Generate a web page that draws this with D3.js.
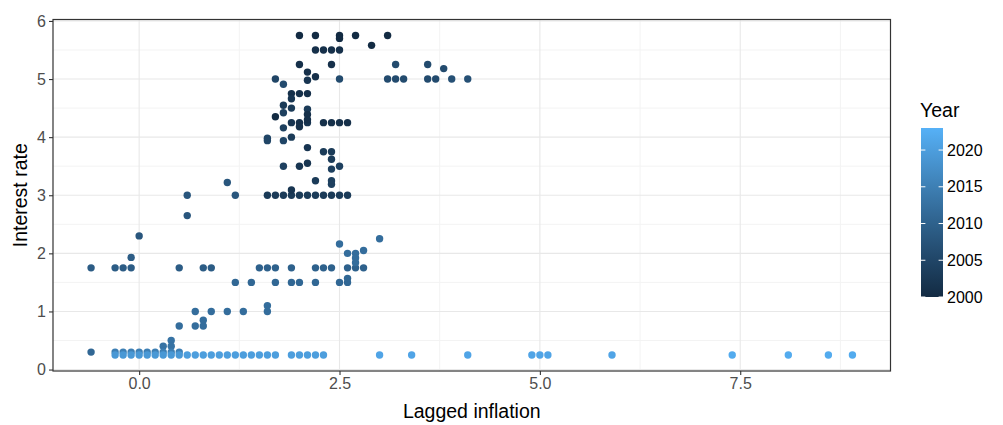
<!DOCTYPE html>
<html>
<head>
<meta charset="utf-8">
<script src="https://cdn.jsdelivr.net/npm/d3@7"></script>
<style>
  body { margin: 0; background: #fff; }
  svg text { font-family: "Liberation Sans", Arial, sans-serif; }
</style>
</head>
<body>
<div id="chart"></div>
<script>
// values
var laggedInflation = [
    // dark years, top of the cloud
    2.0, 2.2, 2.5, 2.5, 2.7, 3.1, 2.9,
    2.2, 2.3, 2.4, 2.5, 2.0, 2.4, 2.1, 2.2, 2.1,
    1.9, 2.0, 2.1, 1.9, 1.8, 1.9, 1.8, 2.1, 2.1, 1.7,
    1.9, 2.0, 2.0, 2.1, 2.1, 2.3, 2.4, 2.5, 2.6, 1.8,
    1.6, 1.6, 1.8, 1.9, 2.1, 2.3, 2.4, 2.4,
    1.8, 2.0, 2.1, 2.5, 2.4, 2.2, 2.4, 2.4,
    1.6, 1.7, 1.8, 1.9, 2.0, 2.1, 2.2, 2.3, 2.4, 2.5, 2.6, 1.9,
    1.2, 1.1, 0.6, 0.6,
    // 2006-2007 block
    3.2, 3.6, 3.8, 1.7, 2.5, 3.1, 3.2, 3.3, 3.6, 3.7, 3.9, 4.1, 1.8,
    // middle years
    0.0, -0.1, -0.6, -0.3, -0.2, -0.1, 0.5, 0.8, 0.9,
    1.5, 1.6, 1.7, 1.9, 2.2, 2.3, 2.4, 2.6, 2.7, 2.8,
    1.2, 1.4, 1.7, 1.9, 2.0, 2.2, 2.5, 2.6, 2.6,
    2.5, 2.6, 2.7, 2.7, 2.7, 2.8, 3.0,
    0.7, 0.9, 1.1, 1.3, 1.6, 1.6,
    0.5, 0.7, 0.8, 0.8,
    0.4, 0.3, 0.4, -0.6,
    // low rate row
    -0.3, -0.2, -0.1, 0.0, 0.1, 0.2, 0.3, 0.4, 0.5,
    -0.3, -0.2, -0.1, 0.0, 0.1, 0.2, 0.3, 0.4, 0.5, 0.6, 0.7, 0.8, 0.9, 1.0,
    1.1, 1.2, 1.3, 1.4, 1.5, 1.6, 1.7, 1.9, 2.0, 2.1, 2.2, 2.3,
    3.0, 3.4, 4.1, 4.9, 5.0, 5.1, 5.9, 7.4, 8.1, 8.6, 8.9
];
var interestRate = [
    5.75, 5.75, 5.75, 5.70, 5.75, 5.75, 5.58,
    5.5, 5.5, 5.5, 5.5, 5.25, 5.25, 5.12, 5.04, 4.98,
    4.75, 4.75, 4.75, 4.66, 4.55, 4.5, 4.42, 4.48, 4.39, 4.35,
    4.25, 4.25, 4.18, 4.25, 4.3, 4.25, 4.25, 4.25, 4.25, 4.16,
    3.98, 3.94, 3.94, 4.0, 3.82, 3.75, 3.75, 3.62,
    3.5, 3.5, 3.55, 3.5, 3.45, 3.25, 3.25, 3.19,
    3.0, 3.0, 3.0, 3.0, 3.0, 3.0, 3.0, 3.0, 3.0, 3.0, 3.0, 3.09,
    3.0, 3.22, 3.0, 2.65,
    5.25, 5.25, 5.18, 5.0, 5.0, 5.0, 5.0, 5.0, 5.0, 5.0, 5.0, 5.0, 4.91,
    2.3, 1.93, 1.75, 1.75, 1.75, 1.75, 1.75, 1.75, 1.75,
    1.75, 1.75, 1.75, 1.75, 1.75, 1.75, 1.75, 1.75, 1.75, 1.75,
    1.5, 1.5, 1.5, 1.5, 1.5, 1.5, 1.5, 1.5, 1.57,
    2.16, 2.0, 2.0, 1.92, 1.84, 2.05, 2.25,
    1.0, 1.0, 1.0, 1.0, 1.0, 1.1,
    0.75, 0.75, 0.75, 0.85,
    0.5, 0.4, 0.4, 0.3,
    0.3, 0.3, 0.3, 0.3, 0.3, 0.3, 0.3, 0.3, 0.3,
    0.25, 0.25, 0.25, 0.25, 0.25, 0.25, 0.25, 0.25, 0.25, 0.25, 0.25, 0.25, 0.25, 0.25,
    0.25, 0.25, 0.25, 0.25, 0.25, 0.25, 0.25, 0.25, 0.25, 0.25, 0.25, 0.25,
    0.25, 0.25, 0.25, 0.25, 0.25, 0.25, 0.25, 0.25, 0.25, 0.25, 0.25
];
var year = [
    2000, 2000, 2000, 2000, 2000, 2000, 2000,
    2001, 2001, 2001, 2001, 2001, 2001, 2001, 2001, 2002,
    2001, 2001, 2001, 2002, 2003, 2003, 2004, 2003, 2001, 2000,
    2002, 2001, 2001, 2002, 2001, 2001, 2001, 2001, 2001, 2004,
    2005, 2005, 2005, 2003, 2002, 2003, 2003, 2003,
    2004, 2002, 2002, 2004, 2004, 2003, 2004, 2004,
    2003, 2003, 2003, 2003, 2003, 2003, 2003, 2003, 2003, 2003, 2003, 2002,
    2008, 2008, 2008, 2008,
    2006, 2006, 2006, 2005, 2006, 2006, 2006, 2006, 2006, 2006, 2007, 2007, 2006,
    2008, 2009, 2009, 2009, 2009, 2009, 2009, 2009, 2009,
    2010, 2010, 2010, 2010, 2010, 2010, 2010, 2010, 2010, 2010,
    2011, 2011, 2011, 2011, 2011, 2011, 2011, 2011, 2011,
    2012, 2012, 2012, 2012, 2012, 2012, 2012,
    2012, 2012, 2012, 2012, 2012, 2012,
    2012, 2012, 2012, 2012,
    2013, 2013, 2013, 2011,
    2015, 2015, 2015, 2015, 2015, 2015, 2015, 2015, 2015,
    2019, 2019, 2019, 2019, 2019, 2019, 2019, 2019, 2019, 2020, 2020, 2020, 2020, 2020,
    2020, 2020, 2020, 2020, 2020, 2020, 2020, 2020, 2020, 2020, 2020, 2020,
    2021, 2021, 2021, 2021, 2021, 2021, 2021, 2022, 2022, 2022, 2022
];
var xTicks = [0, 2.5, 5, 7.5];
var yTicks = [0, 1, 2, 3, 4, 5, 6];
var yearBreaks = [2000, 2005, 2010, 2015, 2020];
var yearLimits = [2000, 2023];

var points = laggedInflation.map(function(d, i) {
    return {x: d, y: interestRate[i], year: year[i]};
});

var W = 1003, H = 425;
var panel = {left: 53, top: 19.5, right: 890.5, bottom: 371};

// ggplot style 5% expansion of the data range
function expand(ext) {
    var pad = (ext[1] - ext[0]) * 0.05;
    return [ext[0] - pad, ext[1] + pad];
}

var x = d3.scaleLinear()
    .domain(expand(d3.extent(laggedInflation)))
    .range([panel.left, panel.right]);
var y = d3.scaleLinear()
    .domain(expand(d3.extent(interestRate)))
    .range([panel.bottom, panel.top]);

var color = d3.scaleLinear()
    .domain(yearLimits)
    .range(["#132B43", "#56B1F7"])
    .interpolate(d3.interpolateLab);

var svg = d3.select("#chart").append("svg")
    .attr("width", W)
    .attr("height", H);

// minor grid
var xMinor = xTicks.map(function(t) { return t + 1.25; });
var yMinor = yTicks.slice(0, -1).map(function(t) { return t + 0.5; });
var grid = svg.append("g");
grid.selectAll(".xminor").data(xMinor).enter().append("line")
    .attr("x1", function(d) { return x(d); }).attr("x2", function(d) { return x(d); })
    .attr("y1", panel.top).attr("y2", panel.bottom)
    .attr("stroke", "#f3f3f3").attr("stroke-width", 1);
grid.selectAll(".yminor").data(yMinor).enter().append("line")
    .attr("y1", function(d) { return y(d); }).attr("y2", function(d) { return y(d); })
    .attr("x1", panel.left).attr("x2", panel.right)
    .attr("stroke", "#f3f3f3").attr("stroke-width", 1);
// major grid
grid.selectAll(".xmajor").data(xTicks).enter().append("line")
    .attr("x1", function(d) { return x(d); }).attr("x2", function(d) { return x(d); })
    .attr("y1", panel.top).attr("y2", panel.bottom)
    .attr("stroke", "#e8e8e8").attr("stroke-width", 1.1);
grid.selectAll(".ymajor").data(yTicks).enter().append("line")
    .attr("y1", function(d) { return y(d); }).attr("y2", function(d) { return y(d); })
    .attr("x1", panel.left).attr("x2", panel.right)
    .attr("stroke", "#e8e8e8").attr("stroke-width", 1.1);

// points
svg.append("g").selectAll("circle")
    .data(points)
    .enter().append("circle")
    .attr("cx", function(d) { return x(d.x); })
    .attr("cy", function(d) { return y(d.y); })
    .attr("r", 3.7)
    .attr("fill", function(d) { return color(d.year); });

// panel border
svg.append("rect")
    .attr("x", panel.left).attr("y", panel.top)
    .attr("width", panel.right - panel.left)
    .attr("height", panel.bottom - panel.top)
    .attr("fill", "none")
    .attr("stroke", "#333333")
    .attr("stroke-width", 1.2);

// axes
var xAxis = d3.axisBottom(x).tickValues(xTicks)
    .tickFormat(d3.format(".1f")).tickSize(4).tickPadding(3);
var yAxis = d3.axisLeft(y).tickValues(yTicks)
    .tickFormat(d3.format("d")).tickSize(4).tickPadding(3);

var gx = svg.append("g")
    .attr("transform", "translate(0," + panel.bottom + ")")
    .call(xAxis);
var gy = svg.append("g")
    .attr("transform", "translate(" + panel.left + ",0)")
    .call(yAxis);
[gx, gy].forEach(function(g) {
    g.select(".domain").remove();
    g.selectAll(".tick line").attr("stroke", "#333333").attr("stroke-width", 1.1);
    g.selectAll(".tick text")
        .attr("fill", "#4D4D4D")
        .style("font-size", "16px");
});

svg.append("text")
    .attr("x", (panel.left + panel.right) / 2)
    .attr("y", 418)
    .attr("text-anchor", "middle")
    .style("font-size", "19.5px")
    .attr("fill", "#000")
    .text("Lagged inflation");

svg.append("text")
    .attr("transform", "translate(27," + ((panel.top + panel.bottom) / 2) + ") rotate(-90)")
    .attr("text-anchor", "middle")
    .style("font-size", "19.5px")
    .attr("fill", "#000")
    .text("Interest rate");

// colour bar legend
var bar = {x: 921, width: 22, top: 128, bottom: 297};
var legendY = d3.scaleLinear().domain(yearLimits).range([bar.bottom, bar.top]);

var grad = svg.append("defs").append("linearGradient")
    .attr("id", "yeargrad")
    .attr("x1", 0).attr("y1", 1).attr("x2", 0).attr("y2", 0);
d3.range(0, 1.0001, 0.1).forEach(function(t) {
    grad.append("stop")
        .attr("offset", t)
        .attr("stop-color", color(yearLimits[0] + t * (yearLimits[1] - yearLimits[0])));
});

var legend = svg.append("g");
legend.append("text")
    .attr("x", bar.x - 1)
    .attr("y", 117)
    .style("font-size", "19.5px")
    .attr("fill", "#000")
    .text("Year");
legend.append("rect")
    .attr("x", bar.x).attr("y", bar.top)
    .attr("width", bar.width).attr("height", bar.bottom - bar.top)
    .attr("fill", "url(#yeargrad)");
legend.selectAll(".tl").data(yearBreaks).enter().append("line")
    .attr("x1", bar.x).attr("x2", bar.x + 4.4)
    .attr("y1", function(d) { return legendY(d); })
    .attr("y2", function(d) { return legendY(d); })
    .attr("stroke", "#fff").attr("stroke-width", 1);
legend.selectAll(".tr").data(yearBreaks).enter().append("line")
    .attr("x1", bar.x + bar.width - 4.4).attr("x2", bar.x + bar.width)
    .attr("y1", function(d) { return legendY(d); })
    .attr("y2", function(d) { return legendY(d); })
    .attr("stroke", "#fff").attr("stroke-width", 1);
legend.selectAll(".lab").data(yearBreaks).enter().append("text")
    .attr("x", bar.x + bar.width + 4)
    .attr("y", function(d) { return legendY(d); })
    .attr("dy", "0.35em")
    .style("font-size", "16px")
    .attr("fill", "#000")
    .text(function(d) { return d; });
</script>
</body>
</html>
